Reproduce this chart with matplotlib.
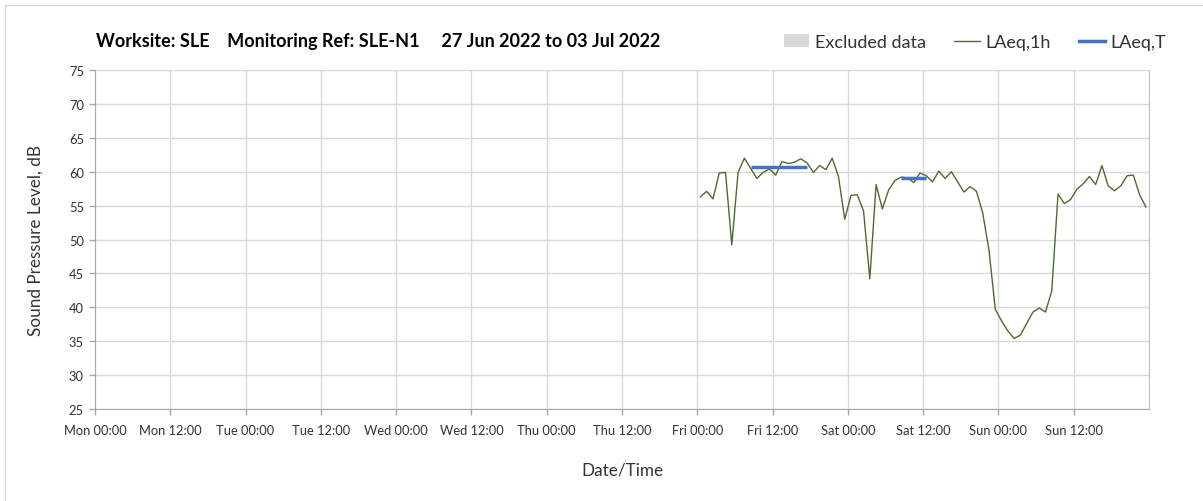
import matplotlib
matplotlib.use("Agg")
import matplotlib.pyplot as plt
from matplotlib.patches import Patch, Rectangle
from matplotlib.lines import Line2D
import numpy as np

plt.rcParams['font.family'] = ['Lato', 'DejaVu Sans']

# Hourly LAeq,1h values starting Fri 00:30, one per hour
laeq_1h = [56.3, 57.1, 56.0, 59.8, 59.9, 49.2, 59.9, 62.0, 60.5, 59.0,
           59.9, 60.4, 59.5, 61.5, 61.2, 61.4, 61.9, 61.3, 59.9, 60.9,
           60.3, 62.0, 59.3, 53.0, 56.5, 56.6, 54.2, 44.2, 58.1, 54.5,
           57.3, 58.7, 59.2, 59.1, 58.4, 59.8, 59.4, 58.5, 60.1, 59.0,
           60.0, 58.5, 57.0, 57.8, 57.1, 53.9, 48.4, 39.7, 38.0, 36.5,
           35.4, 35.9, 37.6, 39.3, 39.9, 39.3, 42.4, 56.7, 55.3, 55.9,
           57.4, 58.2, 59.3, 58.1, 60.9, 57.9, 57.2, 57.9, 59.4, 59.5,
           56.6, 54.8]
first_hour = 96.5  # Fri 00:30 in hours from Mon 00:00

# LAeq,T periods: (start hour, end hour, level)
laeq_t_start = [104.5, 128.5]
laeq_t_end = [113.5, 132.5]
laeq_t_value = [60.7, 59.1]

tick_labels = ["Mon 00:00", "Mon 12:00", "Tue 00:00", "Tue 12:00", "Wed 00:00",
               "Wed 12:00", "Thu 00:00", "Thu 12:00", "Fri 00:00", "Fri 12:00",
               "Sat 00:00", "Sat 12:00", "Sun 00:00", "Sun 12:00"]
y_ticks = [25, 30, 35, 40, 45, 50, 55, 60, 65, 70, 75]

W, H = 1203, 502
fig = plt.figure(figsize=(W / 100, H / 100), dpi=100)
ax = fig.add_axes([95 / W, 1 - 410 / H, (1149 - 95) / W, (410 - 71) / H])

hours = first_hour + np.arange(len(laeq_1h))
ax.plot(hours, laeq_1h, color='#4f6a2e', lw=1.0, zorder=3)
for s, e, v in zip(laeq_t_start, laeq_t_end, laeq_t_value):
    ax.plot([s, e], [v, v], color='#4472c4', lw=2.5, zorder=4, solid_capstyle='butt')

ax.set_xlim(0, 168)
ax.set_ylim(25, 75)
ax.set_xticks(np.arange(0, 168, 12))
ax.set_xticklabels(tick_labels)
ax.set_yticks(y_ticks)
ax.grid(True, color='#d9d9d9', lw=1.0)
ax.set_axisbelow(True)
ax.spines['top'].set_visible(False)
ax.spines['right'].set_color('#bfbfbf')
ax.spines['left'].set_color('#a6a6a6')
ax.spines['bottom'].set_color('#a6a6a6')
ax.tick_params(axis='both', colors='#a6a6a6', labelcolor='#333333', labelsize=9.3, length=4, width=1)
ax.tick_params(axis='x', pad=7)
ax.tick_params(axis='y', pad=4)

ax.set_ylabel("Sound Pressure Level, dB", fontsize=12.3, color='#333333', labelpad=18)
ax.set_xlabel("Date/Time", fontsize=12.3, color='#333333', labelpad=18)

fig.text(96 / W, 1 - 41 / H,
         "Worksite: SLE    Monitoring Ref: SLE-N1     27 Jun 2022 to 03 Jul 2022",
         fontsize=13, fontweight='bold', color='#000000', va='center', ha='left')

handles = [Patch(facecolor='#d9d9d9', edgecolor='none'),
           Line2D([], [], color='#4f6a2e', lw=1.0),
           Line2D([], [], color='#4472c4', lw=2.5)]
labels = ["Excluded data", "LAeq,1h", "LAeq,T"]
fig.legend(handles, labels, ncol=3, loc='center right',
           bbox_to_anchor=(1182 / W, 1 - 43 / H), frameon=False,
           fontsize=13, handlelength=1.4, handletextpad=0.3, columnspacing=1.6,
           labelcolor='#333333')

fig.patches.append(Rectangle((5 / W, -0.1), 1.2, 1 - 6 / H + 0.1, transform=fig.transFigure,
                             fill=False, edgecolor='#d9d9d9', lw=1.0))

fig.savefig("out.png", dpi=100)
